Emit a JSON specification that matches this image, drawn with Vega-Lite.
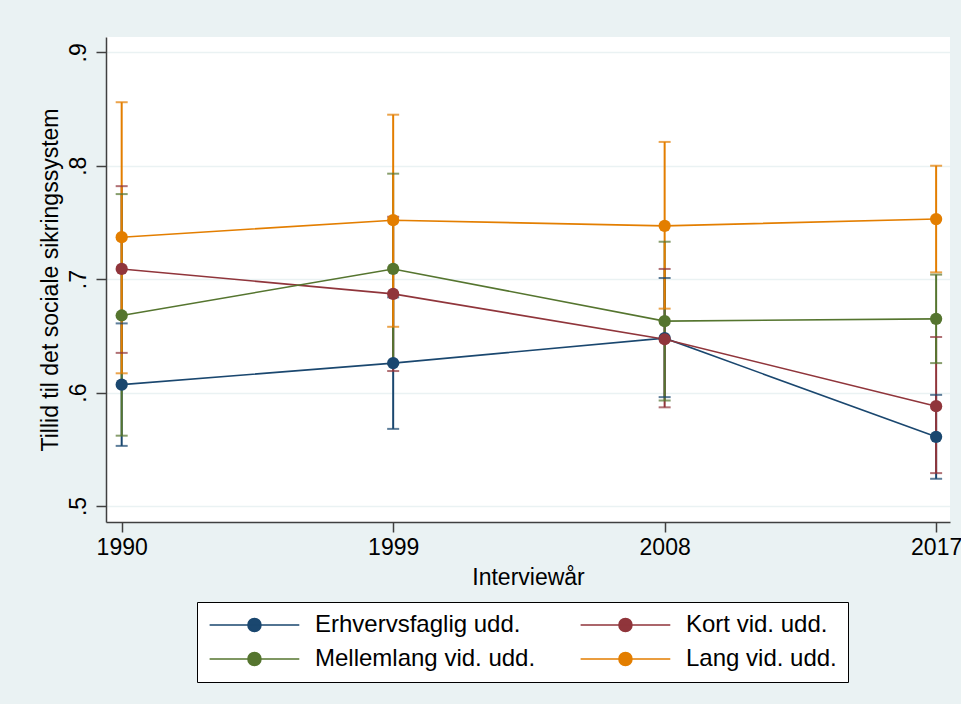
{
  "$schema": "https://vega.github.io/schema/vega-lite/v6.json",
  "width": 844,
  "height": 485,
  "autosize": {"type": "none"},
  "padding": {"left": 106, "top": 37, "right": 11, "bottom": 182},
  "background": "#EAF2F3",
  "config": {
    "view": {"fill": "white", "stroke": null},
    "font": "Liberation Sans"
  },
  "data": {
    "values": [
      {"year": 1990, "group": "Erhvervsfaglig udd.", "mean": 0.607, "lo": 0.553, "hi": 0.661},
      {"year": 1999, "group": "Erhvervsfaglig udd.", "mean": 0.626, "lo": 0.568, "hi": 0.684},
      {"year": 2008, "group": "Erhvervsfaglig udd.", "mean": 0.648, "lo": 0.596, "hi": 0.701},
      {"year": 2017, "group": "Erhvervsfaglig udd.", "mean": 0.561, "lo": 0.524, "hi": 0.598},
      {"year": 1990, "group": "Kort vid. udd.", "mean": 0.709, "lo": 0.635, "hi": 0.782},
      {"year": 1999, "group": "Kort vid. udd.", "mean": 0.687, "lo": 0.619, "hi": 0.755},
      {"year": 2008, "group": "Kort vid. udd.", "mean": 0.647, "lo": 0.587, "hi": 0.709},
      {"year": 2017, "group": "Kort vid. udd.", "mean": 0.588, "lo": 0.529, "hi": 0.649},
      {"year": 1990, "group": "Mellemlang vid. udd.", "mean": 0.668, "lo": 0.562, "hi": 0.775},
      {"year": 1999, "group": "Mellemlang vid. udd.", "mean": 0.709, "lo": 0.625, "hi": 0.793},
      {"year": 2008, "group": "Mellemlang vid. udd.", "mean": 0.663, "lo": 0.593, "hi": 0.733},
      {"year": 2017, "group": "Mellemlang vid. udd.", "mean": 0.665, "lo": 0.626, "hi": 0.704},
      {"year": 1990, "group": "Lang vid. udd.", "mean": 0.737, "lo": 0.617, "hi": 0.856},
      {"year": 1999, "group": "Lang vid. udd.", "mean": 0.752, "lo": 0.658, "hi": 0.845},
      {"year": 2008, "group": "Lang vid. udd.", "mean": 0.747, "lo": 0.674, "hi": 0.821},
      {"year": 2017, "group": "Lang vid. udd.", "mean": 0.753, "lo": 0.706, "hi": 0.800}
    ]
  },
  "encoding": {
    "x": {
      "field": "year", "type": "quantitative",
      "scale": {"domain": [1989.48, 2017.46], "nice": false, "zero": false},
      "axis": {
        "title": "Interviewår", "values": [1990, 1999, 2008, 2017], "format": "d",
        "grid": false, "domainColor": "#404040", "tickColor": "#404040",
        "domainWidth": 1.5, "tickWidth": 1.5, "tickSize": 10,
        "labelFontSize": 23, "labelColor": "black", "labelPadding": 4, "labelFlush": false,
        "titleFontSize": 23, "titleFontWeight": "normal", "titleColor": "black",
        "titleBaseline": "middle", "titleY": 55
      }
    },
    "color": {
      "field": "group", "type": "nominal",
      "scale": {
        "domain": ["Erhvervsfaglig udd.", "Kort vid. udd.", "Mellemlang vid. udd.", "Lang vid. udd."],
        "range": ["#1A476F", "#90353B", "#55752F", "#E37E00"]
      },
      "legend": {
        "title": null, "orient": "none", "legendX": 91, "legendY": 565,
        "direction": "horizontal", "columns": 2, "columnPadding": 41, "rowPadding": 10,
        "padding": 11, "strokeColor": "black", "fillColor": "white",
        "labelFontSize": 24, "labelColor": "black", "labelOffset": 83, "labelLimit": 400,
        "symbolType": "M-1.6,0H12.2M4.3,0A1,1,0,1,1,6.3,0A1,1,0,1,1,4.3,0Z",
        "symbolSize": 169, "symbolStrokeWidth": 1.6,
        "encode": {
          "symbols": {"update": {
            "fill": {"scale": "color", "field": "value"},
            "stroke": {"scale": "color", "field": "value"},
            "size": {"value": 169},
            "opacity": {"value": 1}
          }}
        }
      }
    }
  },
  "layer": [
    {
      "mark": {"type": "rule", "strokeWidth": 2},
      "encoding": {
        "y": {
          "field": "lo", "type": "quantitative",
          "scale": {"domain": [0.4859, 0.9135], "nice": false, "zero": false},
          "axis": {
            "title": "Tillid til det sociale sikringssystem",
            "values": [0.5, 0.6, 0.7, 0.8, 0.9],
            "labelExpr": "replace(format(datum.value, '.1f'), '0.', '.')",
            "grid": true, "gridColor": "#EAF2F3", "gridWidth": 1.5,
            "domainColor": "#404040", "tickColor": "#404040",
            "domainWidth": 1.5, "tickWidth": 1.5, "tickSize": 10,
            "labelFontSize": 23, "labelColor": "black", "labelAngle": -90,
            "labelAlign": "center", "labelBaseline": "bottom", "labelPadding": 6,
            "titleFontSize": 23, "titleFontWeight": "normal", "titleColor": "black",
            "titleBaseline": "middle", "titleX": -56
          }
        },
        "y2": {"field": "hi"}
      }
    },
    {
      "mark": {"type": "tick", "orient": "horizontal", "size": 12, "thickness": 2},
      "encoding": {"y": {"field": "lo", "type": "quantitative"}}
    },
    {
      "mark": {"type": "tick", "orient": "horizontal", "size": 12, "thickness": 2},
      "encoding": {"y": {"field": "hi", "type": "quantitative"}}
    },
    {
      "mark": {"type": "line", "strokeWidth": 1.6},
      "encoding": {"y": {"field": "mean", "type": "quantitative"}}
    },
    {
      "mark": {"type": "point", "filled": true, "opacity": 1, "size": 150, "shape": "circle"},
      "encoding": {"y": {"field": "mean", "type": "quantitative"}}
    }
  ]
}
